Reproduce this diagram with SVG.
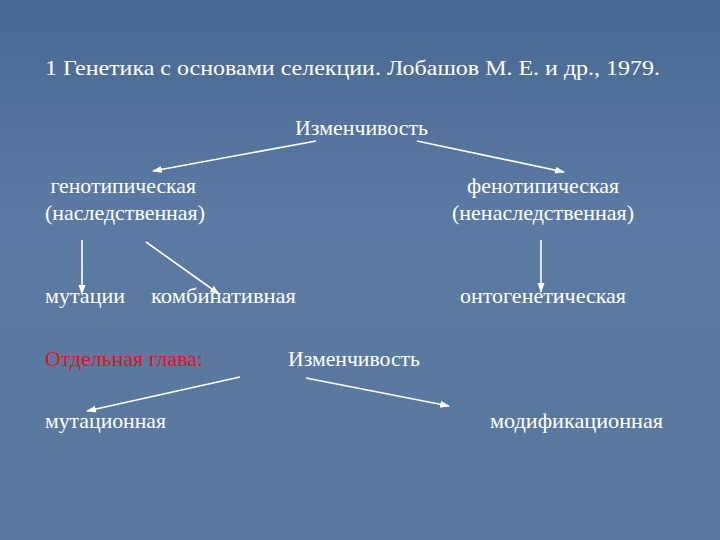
<svg xmlns="http://www.w3.org/2000/svg" width="720" height="540" viewBox="0 0 720 540">
<defs>
<linearGradient id="bg" x1="0" y1="0" x2="0" y2="1">
<stop offset="0" stop-color="#476892"/>
<stop offset="0.4" stop-color="#5b7aa3"/>
<stop offset="1" stop-color="#58789f"/>
</linearGradient>
<marker id="ah" viewBox="0 0 10 10" refX="9" refY="5" markerWidth="10" markerHeight="10" orient="auto" markerUnits="userSpaceOnUse">
<path d="M0,1.5 L10,5 L0,8.5 Z" fill="#ffffff"/>
</marker>
<style>
.c{stroke:#ffffff;stroke-width:1.6}
</style>
</defs>
<rect width="720" height="540" fill="url(#bg)"/>
<g font-family="Liberation Serif, Times New Roman, serif" font-size="22" fill="#ffffff">
<g id="title"><text x="45" y="75" textLength="615" lengthAdjust="spacingAndGlyphs">1 Генетика с основами селекции. Лобашов М. Е. и др., 1979.</text></g>
<g id="n-izm1"><text x="295" y="135" textLength="133" lengthAdjust="spacingAndGlyphs">Изменчивость</text></g>
<g id="n-geno"><text x="45" y="193" xml:space="preserve" textLength="151" lengthAdjust="spacingAndGlyphs"> генотипическая</text><text x="45" y="220" textLength="160" lengthAdjust="spacingAndGlyphs">(наследственная)</text></g>
<g id="n-feno"><text x="467" y="193" textLength="152" lengthAdjust="spacingAndGlyphs">фенотипическая</text><text x="452" y="220" textLength="182" lengthAdjust="spacingAndGlyphs">(ненаследственная)</text></g>
<g id="n-mut"><text x="45" y="303" textLength="80" lengthAdjust="spacingAndGlyphs">мутации</text></g>
<g id="n-komb"><text x="151" y="303" textLength="145" lengthAdjust="spacingAndGlyphs">комбинативная</text></g>
<g id="n-onto"><text x="460" y="303" textLength="166" lengthAdjust="spacingAndGlyphs">онтогенетическая</text></g>
<g id="n-chapter"><text fill="#e8101c" x="45" y="366" textLength="158" lengthAdjust="spacingAndGlyphs">Отдельная глава:</text></g>
<g id="n-izm2"><text x="288" y="366" textLength="132" lengthAdjust="spacingAndGlyphs">Изменчивость</text></g>
<g id="n-mutac"><text x="45" y="428" textLength="121" lengthAdjust="spacingAndGlyphs">мутационная</text></g>
<g id="n-modif"><text x="490" y="428" textLength="173" lengthAdjust="spacingAndGlyphs">модификационная</text></g>
</g>
<g id="connectors">
<line class="c" x1="316" y1="141" x2="153" y2="171" marker-end="url(#ah)"/>
<line class="c" x1="417" y1="141" x2="564" y2="172" marker-end="url(#ah)"/>
<line class="c" x1="82" y1="240" x2="82" y2="294" marker-end="url(#ah)"/>
<line class="c" x1="146" y1="242" x2="219" y2="294" marker-end="url(#ah)"/>
<line class="c" x1="541" y1="240" x2="541" y2="292" marker-end="url(#ah)"/>
<line class="c" x1="240" y1="377" x2="87" y2="411" marker-end="url(#ah)"/>
<line class="c" x1="306" y1="378" x2="449" y2="406" marker-end="url(#ah)"/>
</g>
</svg>
